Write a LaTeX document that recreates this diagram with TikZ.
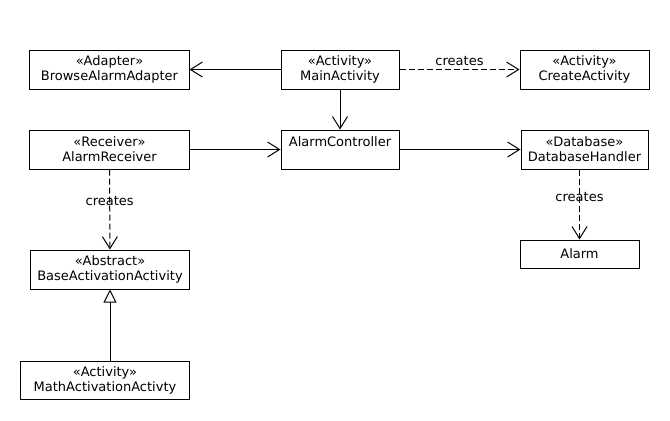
\documentclass[tikz,border=0pt]{standalone}
\usepackage{fontspec}
\setmainfont{DejaVu Sans}
\usetikzlibrary{arrows.meta,positioning}

\begin{document}
\begin{tikzpicture}[x=1bp, y=-1bp,
    font=\fontsize{13bp}{15bp}\selectfont,
    cls/.style={draw, line width=1bp, inner sep=0pt, align=center, minimum height=39bp},
    assoc/.style={line width=1bp, -{Straight Barb[length=12bp,width=15bp]}},
    dep/.style={assoc, dash pattern=on 6bp off 3bp},
    inherit/.style={line width=1bp, -{Triangle[open,length=13bp,width=13bp]}}]
    \useasboundingbox (0,0) rectangle (670,420);
    % top row
    \node[cls, minimum width=159bp] (adapter) at (109.5,69.5) {«Adapter»\\BrowseAlarmAdapter};
    \node[cls, minimum width=118bp] (main) at (340,69.5) {«Activity»\\MainActivity};
    \node[cls, minimum width=129bp] (create) at (584.5,69.5) {«Activity»\\CreateActivity};
    % middle row
    \node[cls, minimum width=159bp] (receiver) at (109.5,149.5) {«Receiver»\\AlarmReceiver};
    \node[cls, minimum width=118bp] (ctrl) at (340,149.5) {AlarmController\\\mbox{}};
    \node[cls, minimum width=127bp] (dbh) at (584.5,149.5) {«Database»\\DatabaseHandler};
    % lower part
    \node[cls, minimum width=119bp, minimum height=28bp] (alarm) at (579.5,254) {Alarm};
    \node[cls, minimum width=158bp] (base) at (110,269.5) {«Abstract»\\BaseActivationActivity};
    \node[cls, minimum width=168bp, minimum height=38bp] (math) at (105,380) {«Activity»\\MathActivationActivty};

    % associations
    \draw[assoc] (main) -- (adapter);
    \draw[assoc] (main) -- (ctrl);
    \draw[assoc] (receiver) -- (ctrl);
    \draw[assoc] (ctrl) -- (dbh);
    % creates
    \draw[dep] (main) -- (create) node[midway, above, inner sep=3bp] {creates};
    \draw[dep] (receiver) -- (base) node[pos=0.4] {creates};
    \draw[dep] (dbh.south -| alarm.north) -- (alarm.north) node[pos=0.4] {creates};
    % generalisation
    \draw[inherit] (math.north -| base.south) -- (base.south);
\end{tikzpicture}
\end{document}
